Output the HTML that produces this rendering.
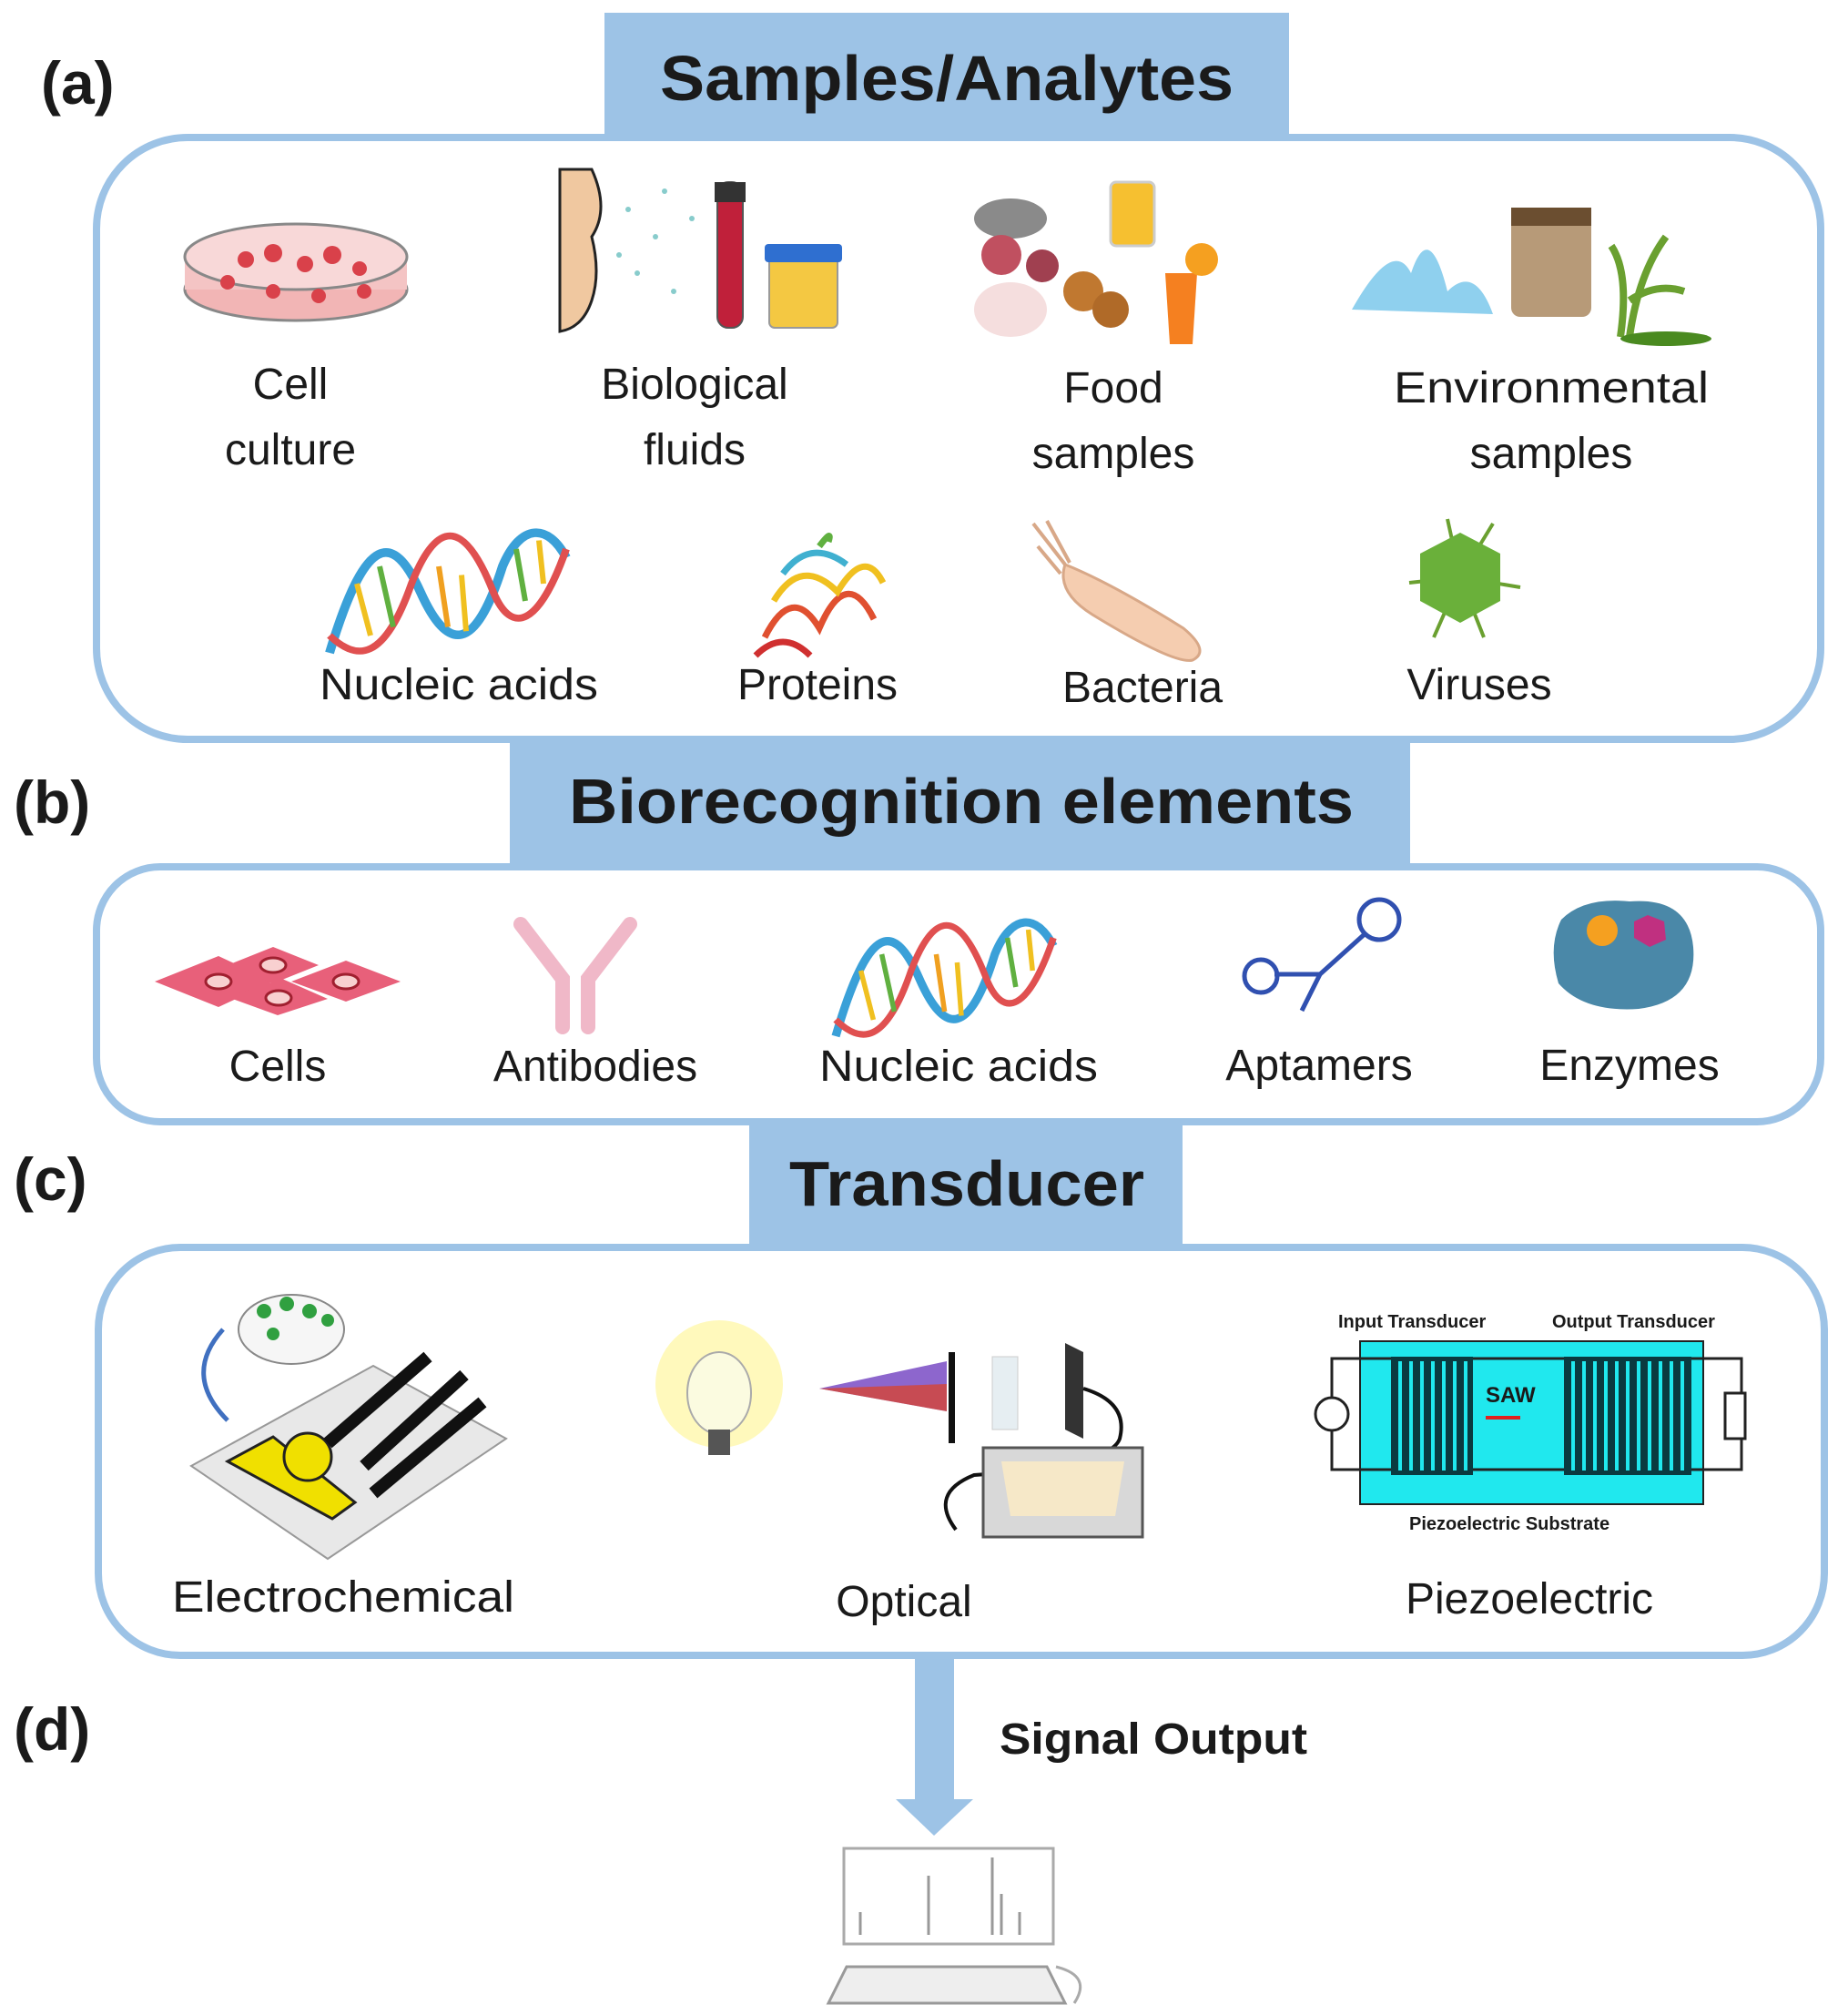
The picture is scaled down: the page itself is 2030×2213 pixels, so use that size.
<!DOCTYPE html>
<html><head><meta charset="utf-8"><style>
html,body{margin:0;padding:0;background:#fff}
svg{display:block}
text{font-family:"Liberation Sans",sans-serif;fill:#1a1a1a}
</style></head><body>
<svg width="2030" height="2213" viewBox="0 0 2030 2213" xmlns="http://www.w3.org/2000/svg">
<!-- headers -->
<rect x="664" y="14" width="752" height="140" fill="#9dc3e6"/>
<rect x="560" y="812" width="989" height="140" fill="#9dc3e6"/>
<rect x="823" y="1232" width="476" height="140" fill="#9dc3e6"/>
<!-- boxes -->
<rect x="106" y="151" width="1894" height="661" rx="100" fill="#fff" stroke="#9dc3e6" stroke-width="8"/>
<rect x="106" y="952" width="1894" height="280" rx="70" fill="#fff" stroke="#9dc3e6" stroke-width="8"/>
<rect x="108" y="1370" width="1896" height="448" rx="90" fill="#fff" stroke="#9dc3e6" stroke-width="8"/>
<rect x="664" y="14" width="752" height="133" fill="#9dc3e6"/>
<rect x="560" y="816" width="989" height="132" fill="#9dc3e6"/>
<rect x="823" y="1236" width="476" height="130" fill="#9dc3e6"/>
<!-- header text -->
<g font-weight="bold" text-anchor="middle">
<text x="1040" y="110" font-size="70" textLength="630" lengthAdjust="spacingAndGlyphs">Samples/Analytes</text>
<text x="1056" y="904" font-size="70" textLength="862" lengthAdjust="spacingAndGlyphs">Biorecognition elements</text>
<text x="1062" y="1324" font-size="70" textLength="390" lengthAdjust="spacingAndGlyphs">Transducer</text>
</g>
<g font-weight="bold" font-size="66">
<text x="45" y="114">(a)</text>
<text x="15" y="904">(b)</text>
<text x="15" y="1318">(c)</text>
<text x="15" y="1922">(d)</text>
</g>
<!-- arrow -->
<rect x="1005" y="1818" width="43" height="162" fill="#9dc3e6"/>
<polygon points="984,1976 1069,1976 1026,2016" fill="#9dc3e6"/>
<text x="1098" y="1926" font-size="48" font-weight="bold" textLength="338" lengthAdjust="spacingAndGlyphs">Signal Output</text>
<!-- labels -->
<g font-size="48" text-anchor="middle">
<text x="319" y="438">Cell</text><text x="319" y="510">culture</text>
<text x="763" y="438">Biological</text><text x="763" y="510">fluids</text>
<text x="1223" y="442">Food</text><text x="1223" y="514">samples</text>
<text x="1704" y="442" textLength="346" lengthAdjust="spacingAndGlyphs">Environmental</text><text x="1704" y="514">samples</text>
<text x="504" y="768" textLength="306" lengthAdjust="spacingAndGlyphs">Nucleic acids</text>
<text x="898" y="768">Proteins</text>
<text x="1255" y="771">Bacteria</text>
<text x="1625" y="768">Viruses</text>
<text x="305" y="1187">Cells</text>
<text x="654" y="1187">Antibodies</text>
<text x="1053" y="1187" textLength="306" lengthAdjust="spacingAndGlyphs">Nucleic acids</text>
<text x="1449" y="1186">Aptamers</text>
<text x="1790" y="1186">Enzymes</text>
<text x="377" y="1770" textLength="376" lengthAdjust="spacingAndGlyphs">Electrochemical</text>
<text x="993" y="1775">Optical</text>
<text x="1680" y="1772">Piezoelectric</text>
</g>
<!-- petri dish -->
<ellipse cx="325" cy="318" rx="122" ry="34" fill="#f2b5b5" stroke="#888" stroke-width="3"/>
<rect x="203" y="280" width="244" height="38" fill="#f4c4c4"/>
<ellipse cx="325" cy="282" rx="122" ry="36" fill="#f8d8d8" stroke="#888" stroke-width="3"/>
<g fill="#d9414a"><circle cx="270" cy="285" r="9"/><circle cx="300" cy="278" r="10"/><circle cx="335" cy="290" r="9"/><circle cx="365" cy="280" r="10"/><circle cx="395" cy="295" r="8"/><circle cx="250" cy="310" r="8"/><circle cx="300" cy="320" r="8"/><circle cx="350" cy="325" r="8"/><circle cx="400" cy="320" r="8"/></g>
<!-- bio fluids -->
<path d="M615,186 L650,186 Q670,230 650,260 Q660,300 650,330 Q640,360 615,364 Z" fill="#f0c8a0" stroke="#222" stroke-width="3"/>
<g fill="#8cc"><circle cx="690" cy="230" r="3"/><circle cx="720" cy="260" r="3"/><circle cx="700" cy="300" r="3"/><circle cx="740" cy="320" r="3"/><circle cx="760" cy="240" r="3"/><circle cx="730" cy="210" r="3"/><circle cx="680" cy="280" r="3"/></g>
<rect x="788" y="200" width="28" height="160" rx="12" fill="#c0203a" stroke="#555" stroke-width="2"/>
<rect x="785" y="200" width="34" height="22" fill="#333"/>
<rect x="845" y="280" width="75" height="80" rx="6" fill="#f4c842" stroke="#999" stroke-width="2"/>
<rect x="840" y="268" width="85" height="20" rx="4" fill="#2f6fd0"/>
<!-- food -->
<ellipse cx="1110" cy="240" rx="40" ry="22" fill="#8a8a8a"/>
<circle cx="1100" cy="280" r="22" fill="#c05060"/><circle cx="1145" cy="292" r="18" fill="#a04050"/>
<ellipse cx="1110" cy="340" rx="40" ry="30" fill="#f5dede"/>
<rect x="1220" y="200" width="48" height="70" rx="6" fill="#f6c030" stroke="#ccc" stroke-width="3"/>
<circle cx="1190" cy="320" r="22" fill="#c07830"/><circle cx="1220" cy="340" r="20" fill="#b06a28"/>
<path d="M1280,300 L1315,300 L1310,378 L1285,378 Z" fill="#f58020"/>
<circle cx="1320" cy="285" r="18" fill="#f5a020"/>
<!-- environmental -->
<path d="M1485,340 Q1530,260 1550,300 Q1570,240 1590,320 Q1620,290 1640,345 Z" fill="#8fd0ee"/>
<rect x="1660" y="228" width="88" height="120" rx="10" fill="#b79a78"/>
<rect x="1660" y="228" width="88" height="20" fill="#6b4e30"/>
<path d="M1780,370 Q1790,300 1770,270 M1790,370 Q1800,300 1830,260 M1790,330 Q1820,310 1850,320" stroke="#6aa030" stroke-width="8" fill="none"/>
<ellipse cx="1830" cy="372" rx="50" ry="8" fill="#4a8a20"/>
<!-- DNA helper -->
<defs>
<g id="dna">
<path d="M0,140 C40,0 70,0 100,70 C130,140 160,140 190,40 C210,-10 240,-10 260,30" stroke="#3aa0d8" stroke-width="10" fill="none"/>
<path d="M0,120 C30,150 60,150 90,60 C120,-20 150,-10 180,70 C200,120 230,110 260,20" stroke="#e05050" stroke-width="8" fill="none"/>
<g stroke-width="6"><line x1="30" y1="60" x2="45" y2="120" stroke="#f0c020"/><line x1="55" y1="40" x2="70" y2="110" stroke="#60b040"/><line x1="120" y1="40" x2="130" y2="110" stroke="#f0a020"/><line x1="145" y1="50" x2="150" y2="115" stroke="#f0c020"/><line x1="205" y1="20" x2="215" y2="80" stroke="#60b040"/><line x1="230" y1="10" x2="235" y2="60" stroke="#f0c020"/></g>
</g>
</defs>
<use href="#dna" transform="translate(362,584) scale(1,0.95)"/>
<use href="#dna" transform="translate(918,1012) scale(0.92,0.9)"/>
<!-- protein -->
<g stroke-width="7" fill="none">
<path d="M840,700 Q870,640 900,690 Q930,620 960,680" stroke="#e05030"/>
<path d="M850,660 Q880,610 920,650 Q950,600 970,640" stroke="#f0c020"/>
<path d="M860,630 Q890,590 930,620" stroke="#40b0d0"/>
<path d="M900,600 Q915,580 910,595" stroke="#60b040"/>
<path d="M830,720 Q860,690 890,720" stroke="#d03030"/>
</g>
<!-- bacteria -->
<path d="M1170,620 Q1220,640 1300,690 Q1330,715 1310,725 Q1290,730 1200,675 Q1160,650 1170,620 Z" fill="#f5cdb0" stroke="#d8a888" stroke-width="3"/>
<path d="M1170,620 L1135,575 M1165,630 L1140,600 M1175,618 L1150,572" stroke="#d8a888" stroke-width="4" fill="none"/>
<!-- virus -->
<g stroke="#6aa030" stroke-width="4"><line x1="1604" y1="634" x2="1548" y2="640"/><line x1="1604" y1="634" x2="1670" y2="645"/><line x1="1604" y1="634" x2="1590" y2="570"/><line x1="1604" y1="634" x2="1640" y2="575"/><line x1="1604" y1="634" x2="1575" y2="700"/><line x1="1604" y1="634" x2="1630" y2="700"/></g>
<polygon points="1604,585 1648,608 1648,660 1604,684 1560,660 1560,608" fill="#6ab03a"/>
<!-- cells b -->
<g fill="#e8607a"><polygon points="170,1078 240,1050 300,1078 240,1106"/><polygon points="250,1060 300,1040 350,1060 300,1080"/><polygon points="320,1078 380,1055 440,1078 380,1100"/><polygon points="250,1095 310,1075 360,1097 305,1115"/></g>
<g fill="#f8d0d0" stroke="#a02030" stroke-width="3"><ellipse cx="240" cy="1078" rx="14" ry="8"/><ellipse cx="300" cy="1060" rx="14" ry="8"/><ellipse cx="380" cy="1078" rx="14" ry="8"/><ellipse cx="306" cy="1096" rx="14" ry="8"/></g>
<!-- antibody -->
<g stroke="#f0b8c8" stroke-width="16" stroke-linecap="round" fill="none"><path d="M572,1015 L618,1075 L618,1128"/><path d="M692,1015 L646,1075 L646,1128"/></g>
<!-- aptamer -->
<g stroke="#3050b0" stroke-width="5" fill="none"><circle cx="1515" cy="1010" r="22"/><path d="M1500,1025 L1450,1070 L1400,1070"/><circle cx="1385" cy="1072" r="18"/><path d="M1450,1070 L1430,1110"/></g>
<!-- enzyme -->
<path d="M1715,1010 Q1740,985 1790,990 Q1855,985 1860,1040 Q1865,1100 1800,1108 Q1740,1112 1712,1080 Q1700,1040 1715,1010 Z" fill="#4a88a8"/>
<circle cx="1760" cy="1022" r="17" fill="#f5a020"/><polygon points="1810,1005 1828,1012 1830,1032 1812,1040 1795,1030 1795,1012" fill="#c03080"/>
<!-- electrochemical -->
<polygon points="210,1610 410,1500 556,1580 360,1712" fill="#e8e8e8" stroke="#999" stroke-width="2"/>
<path d="M250,1605 L300,1578 L390,1650 L365,1668 Z" fill="#f0e000" stroke="#222" stroke-width="3"/>
<circle cx="338" cy="1600" r="26" fill="#f0e000" stroke="#222" stroke-width="3"/>
<g stroke="#111" stroke-width="14"><line x1="360" y1="1585" x2="470" y2="1490"/><line x1="400" y1="1610" x2="510" y2="1510"/><line x1="410" y1="1640" x2="530" y2="1540"/></g>
<ellipse cx="320" cy="1460" rx="58" ry="38" fill="#f6f6f6" stroke="#888" stroke-width="2"/>
<g fill="#30a040"><circle cx="290" cy="1440" r="8"/><circle cx="315" cy="1432" r="8"/><circle cx="340" cy="1440" r="8"/><circle cx="360" cy="1450" r="7"/><circle cx="300" cy="1465" r="7"/></g>
<path d="M245,1460 Q200,1510 250,1560" stroke="#4070c0" stroke-width="5" fill="none"/>
<!-- optical -->
<circle cx="790" cy="1520" r="70" fill="#fff6a0" opacity="0.7"/>
<ellipse cx="790" cy="1530" rx="35" ry="45" fill="#fbfbe0" stroke="#aaa" stroke-width="2"/>
<rect x="778" y="1570" width="24" height="28" fill="#555"/>
<polygon points="900,1525 1040,1495 1040,1550" fill="#7040c0" opacity="0.8"/>
<polygon points="900,1525 1040,1520 1040,1550" fill="#e04020" opacity="0.7"/>
<rect x="1042" y="1485" width="7" height="100" fill="#111"/>
<rect x="1090" y="1490" width="28" height="80" fill="#e6eef2" stroke="#ccc"/>
<polygon points="1170,1475 1190,1485 1190,1580 1170,1570" fill="#333"/>
<path d="M1190,1525 Q1240,1540 1230,1580 Q1220,1610 1070,1620 Q1020,1640 1050,1680" stroke="#111" stroke-width="4" fill="none"/>
<rect x="1080" y="1590" width="175" height="98" fill="#d8d8d8" stroke="#555" stroke-width="3"/>
<path d="M1100,1605 L1235,1605 L1225,1665 L1110,1665 Z" fill="#f6e8c8"/>
<!-- piezo -->
<g font-size="20" font-weight="bold" fill="#222"><text x="1470" y="1458">Input Transducer</text><text x="1705" y="1458">Output Transducer</text><text x="1548" y="1680">Piezoelectric Substrate</text></g>
<rect x="1494" y="1473" width="377" height="179" fill="#20e8ee" stroke="#222" stroke-width="2"/>
<rect x="1463" y="1492" width="450" height="122" fill="none" stroke="#222" stroke-width="3"/>
<g fill="#0a3a40"><rect x="1528" y="1490" width="90" height="130"/><rect x="1718" y="1490" width="140" height="130"/></g>
<g stroke="#20e8ee" stroke-width="4"><path d="M1538,1495 V1615 M1550,1495 V1615 M1562,1495 V1615 M1574,1495 V1615 M1586,1495 V1615 M1598,1495 V1615 M1610,1495 V1615 M1728,1495 V1615 M1740,1495 V1615 M1752,1495 V1615 M1764,1495 V1615 M1776,1495 V1615 M1788,1495 V1615 M1800,1495 V1615 M1812,1495 V1615 M1824,1495 V1615 M1836,1495 V1615 M1848,1495 V1615"/></g>
<text x="1632" y="1540" font-size="24" font-weight="bold" fill="#e02020">SAW</text>
<line x1="1632" y1="1557" x2="1670" y2="1557" stroke="#e02020" stroke-width="4"/>
<circle cx="1463" cy="1553" r="18" fill="#fff" stroke="#222" stroke-width="3"/>
<rect x="1895" y="1530" width="22" height="50" fill="#fff" stroke="#222" stroke-width="3"/>
<!-- computer -->
<rect x="927" y="2030" width="230" height="105" fill="#fff" stroke="#aaa" stroke-width="3"/>
<path d="M945,2125 L945,2100 M1020,2125 L1020,2060 M1090,2125 L1090,2040 M1100,2125 L1100,2080 M1120,2125 L1120,2100" stroke="#999" stroke-width="3"/>
<polygon points="930,2160 1150,2160 1170,2200 910,2200" fill="#eee" stroke="#999" stroke-width="3"/>
<path d="M1160,2160 Q1200,2170 1180,2200" stroke="#aaa" stroke-width="3" fill="none"/>
</svg>
</body></html>
